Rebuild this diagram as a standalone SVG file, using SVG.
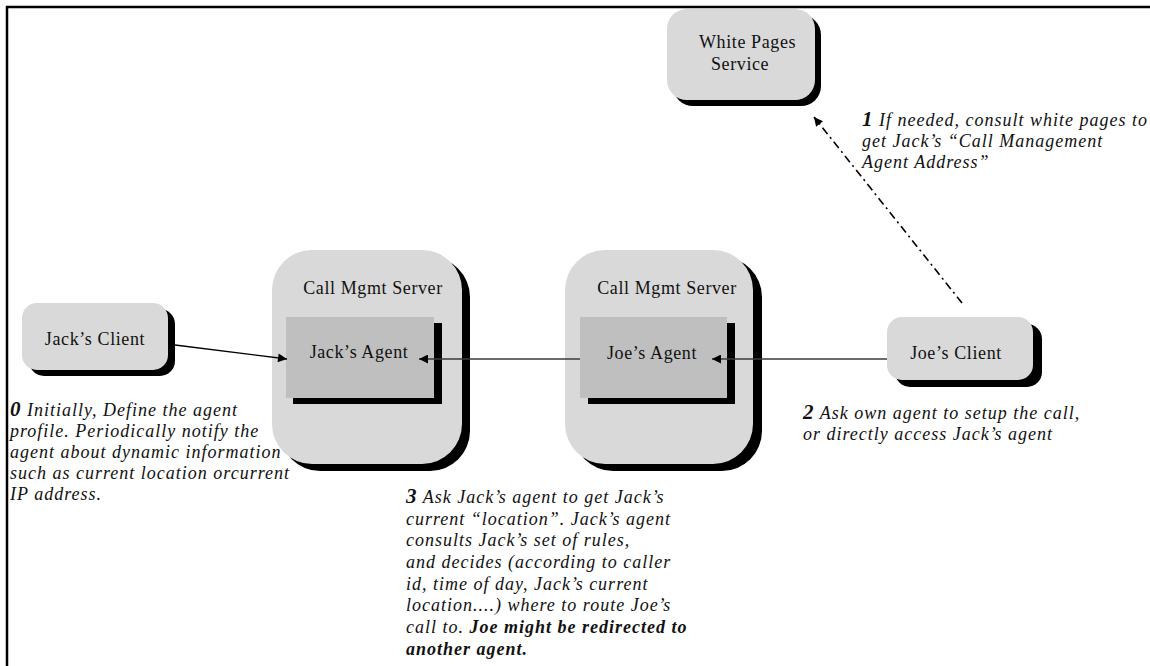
<svg xmlns="http://www.w3.org/2000/svg" width="1150" height="666" viewBox="0 0 1150 666">
  <style>
    .shadow { fill: #000000; }
    .node { fill: #d9d9d9; }
    .agent { fill: #bfbfbf; }
    .label { font-family: "Liberation Serif", "Times New Roman", serif; font-size: 18px; fill: #111111; letter-spacing: 0.6px; }
    .note { font-family: "Liberation Serif", "Times New Roman", serif; font-size: 18px; font-style: italic; fill: #111111; letter-spacing: 1px; }
    .num { font-weight: bold; font-size: 21px; }
    .strong { font-weight: bold; }
    .link { fill: none; stroke: #000000; stroke-width: 1.4; }
    .link-grey { fill: none; stroke: #3a3a3a; stroke-width: 1.6; }
    .dashdot { fill: none; stroke: #000000; stroke-width: 1.6; stroke-dasharray: 8 4 2 4; }
  </style>
  <defs>
    <marker id="arrow" viewBox="0 0 10 10" refX="10" refY="5" markerWidth="10" markerHeight="9" markerUnits="userSpaceOnUse" orient="auto">
      <path d="M0,0 L10,5 L0,10 z" fill="#000000"/>
    </marker>
  </defs>

  <rect width="1150" height="666" fill="#ffffff"/>

  <!-- frame -->
  <g id="frame" stroke="#000000" stroke-width="2.5" fill="none">
    <line x1="6" y1="7" x2="1150" y2="7"/>
    <line x1="7" y1="6" x2="7" y2="666"/>
  </g>

  <g id="white-pages">
    <rect class="shadow" x="673" y="15" width="148" height="91" rx="20"/>
    <rect class="node" x="667" y="9" width="148" height="91" rx="20"/>
    <text class="label" x="699" y="48">White Pages</text>
    <text class="label" x="711" y="70">Service</text>
  </g>

  <g id="jacks-client">
    <rect class="shadow" x="29" y="309" width="146" height="67" rx="15"/>
    <rect class="node" x="22" y="303" width="146" height="67" rx="15"/>
    <text class="label" x="95" y="345" text-anchor="middle">Jack’s Client</text>
  </g>

  <g id="jacks-server">
    <rect class="shadow" x="280" y="257" width="190" height="214" rx="40"/>
    <rect class="node" x="272" y="250" width="190" height="214" rx="40"/>
    <text class="label" x="373" y="294" text-anchor="middle">Call Mgmt Server</text>
  </g>

  <g id="jacks-agent">
    <rect class="shadow" x="293" y="323" width="149" height="81"/>
    <rect class="agent" x="286" y="317" width="148" height="81"/>
    <text class="label" x="359" y="358" text-anchor="middle">Jack’s Agent</text>
  </g>

  <g id="joes-server">
    <rect class="shadow" x="573" y="257" width="189" height="214" rx="40"/>
    <rect class="node" x="565" y="250" width="188" height="214" rx="40"/>
    <text class="label" x="667" y="294" text-anchor="middle">Call Mgmt Server</text>
  </g>

  <g id="joes-agent">
    <rect class="shadow" x="588" y="323" width="147" height="81"/>
    <rect class="agent" x="580" y="317" width="147" height="81"/>
    <text class="label" x="652" y="359" text-anchor="middle">Joe’s Agent</text>
  </g>

  <g id="joes-client">
    <rect class="shadow" x="895" y="324" width="147" height="63" rx="15"/>
    <rect class="node" x="887" y="317" width="146" height="63" rx="15"/>
    <text class="label" x="956" y="359" text-anchor="middle">Joe’s Client</text>
  </g>

  <!-- connectors -->
  <g id="connectors">
    <line class="link" x1="175" y1="345" x2="287" y2="359" marker-end="url(#arrow)"/>
    <line class="link-grey" x1="580" y1="359" x2="419" y2="359" marker-end="url(#arrow)"/>
    <line class="link-grey" x1="887" y1="359" x2="712" y2="359" marker-end="url(#arrow)"/>
    <line class="dashdot" x1="962" y1="303" x2="814" y2="117" marker-end="url(#arrow)"/>
  </g>

  <!-- step notes -->
  <g id="note-0">
    <text class="note" x="10" y="416"><tspan class="num">0</tspan> Initially, Define the agent</text>
    <text class="note" x="10" y="437">profile. Periodically notify the</text>
    <text class="note" x="10" y="458">agent about dynamic information</text>
    <text class="note" x="10" y="479">such as current location orcurrent</text>
    <text class="note" x="10" y="500">IP address.</text>
  </g>

  <g id="note-1">
    <text class="note" x="862" y="126"><tspan class="num">1</tspan> If needed, consult white pages to</text>
    <text class="note" x="862" y="147">get Jack’s “Call Management</text>
    <text class="note" x="862" y="168">Agent Address”</text>
  </g>

  <g id="note-2">
    <text class="note" x="803" y="419"><tspan class="num">2</tspan> Ask own agent to setup the call,</text>
    <text class="note" x="803" y="440">or directly access Jack’s agent</text>
  </g>

  <g id="note-3">
    <text class="note" x="406" y="503"><tspan class="num">3</tspan> Ask Jack’s agent to get Jack’s</text>
    <text class="note" x="406" y="525">current “location”. Jack’s agent</text>
    <text class="note" x="406" y="546">consults Jack’s set of rules,</text>
    <text class="note" x="406" y="568">and decides (according to caller</text>
    <text class="note" x="406" y="590">id, time of day, Jack’s current</text>
    <text class="note" x="406" y="611">location....) where to route Joe’s</text>
    <text class="note" x="406" y="633">call to. <tspan class="strong">Joe might be redirected to</tspan></text>
    <text class="note strong" x="406" y="655">another agent.</text>
  </g>
</svg>
